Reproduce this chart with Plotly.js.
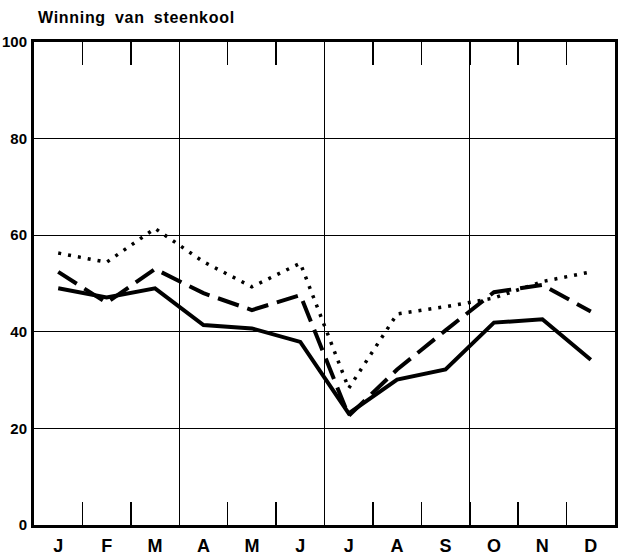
<!DOCTYPE html>
<html><head><meta charset="utf-8">
<script src="https://cdn.plot.ly/plotly-3.0.1.min.js"></script>
<style>
html,body{margin:0;padding:0;background:#fff;}
#chart{width:618px;height:555px;}
.gtitle{letter-spacing:0.7px;word-spacing:4px;}
</style></head><body><div id="chart"></div>
<script>
// Data
const months = ['J','F','M','A','M','J','J','A','S','O','N','D'];
const monthIndex = [0,1,2,3,4,5,6,7,8,9,10,11];
const solidSeries  = [49.0,47.1,49.0,41.4,40.7,37.9,23.1,30.1,32.2,41.9,42.6,34.2];
const dashedSeries = [52.4,46.0,53.0,48.0,44.5,47.6,22.6,32.2,40.3,48.2,49.7,44.2];
const dottedSeries = [56.3,54.4,61.4,54.5,49.3,54.2,28.3,43.7,45.2,47.0,50.4,52.4];
const yTicks = [0,20,40,60,80,100];
const yTickText = ['0','20','40','60','80','100'];
const monthBoundaries = [0.5,1.5,2.5,3.5,4.5,5.5,6.5,7.5,8.5,9.5,10.5];
const quarterBoundaries = [2.5,5.5,8.5];
const titleText = 'Winning van steenkool';

const yTickFont = {family:'"Liberation Sans Narrow","Liberation Sans",Arial,sans-serif', size:15, color:'#000', weight:'bold'};
const xTickFont = {family:'"Liberation Sans Narrow","Liberation Sans",Arial,sans-serif', size:18, color:'#000', weight:'bold'};
const xr = [-0.5, 11.5];

const traces = [
  {x:monthIndex, y:solidSeries, mode:'lines', line:{color:'#000', width:4}, xaxis:'x', yaxis:'y', hoverinfo:'skip'},
  {x:monthIndex, y:dashedSeries, mode:'lines', line:{color:'#000', width:4, dash:'22px,9px'}, xaxis:'x', yaxis:'y', hoverinfo:'skip'},
  {x:monthIndex, y:dottedSeries, mode:'lines', line:{color:'#000', width:3.5, dash:'3px,7px'}, xaxis:'x', yaxis:'y', hoverinfo:'skip'},
  {x:[], y:[], mode:'lines', xaxis:'x2', yaxis:'y', hoverinfo:'skip'},
  {x:[], y:[], mode:'lines', xaxis:'x3', yaxis:'y', hoverinfo:'skip'},
  {x:[], y:[], mode:'lines', xaxis:'x4', yaxis:'y', hoverinfo:'skip'}
];

const layout = {
  width:618, height:555,
  margin:{l:34, r:3, t:42, b:30, pad:0},
  paper_bgcolor:'#fff', plot_bgcolor:'#fff',
  showlegend:false,
  title:{text:titleText, x:38/618, xref:'container', xanchor:'left', y:1-17/555, yref:'container', yanchor:'middle',
         font:{family:'"Liberation Sans","DejaVu Sans",sans-serif', size:16, color:'#000', weight:'bold'}},
  xaxis:{range:xr, tickvals:monthIndex, ticktext:months, ticks:'', showgrid:false, zeroline:false,
         showline:true, linewidth:3, linecolor:'#000', mirror:true, tickfont:xTickFont, ticklabelstandoff:2, fixedrange:true},
  xaxis2:{range:xr, overlaying:'x', side:'bottom', anchor:'y', tickvals:monthBoundaries, ticks:'inside', ticklen:23, tickwidth:1.5, tickcolor:'#000',
          showticklabels:false, showgrid:false, zeroline:false, showline:false, fixedrange:true},
  xaxis3:{range:xr, overlaying:'x', side:'top', anchor:'y', tickvals:monthBoundaries, ticks:'inside', ticklen:23, tickwidth:1.5, tickcolor:'#000',
          showticklabels:false, showgrid:false, zeroline:false, showline:false, fixedrange:true},
  xaxis4:{range:xr, overlaying:'x', side:'bottom', anchor:'y', tickvals:quarterBoundaries, ticks:'', showticklabels:false,
          showgrid:true, gridcolor:'#000', gridwidth:1, zeroline:false, showline:false, fixedrange:true},
  yaxis:{range:[0,100], tickvals:yTicks, ticktext:yTickText, ticks:'', showgrid:true, gridcolor:'#000', gridwidth:1,
         zeroline:false, showline:true, linewidth:3, linecolor:'#000', mirror:true, tickfont:yTickFont, ticklabelstandoff:1, fixedrange:true}
};

Plotly.newPlot('chart', traces, layout, {staticPlot:true, displayModeBar:false});
</script></body></html>
